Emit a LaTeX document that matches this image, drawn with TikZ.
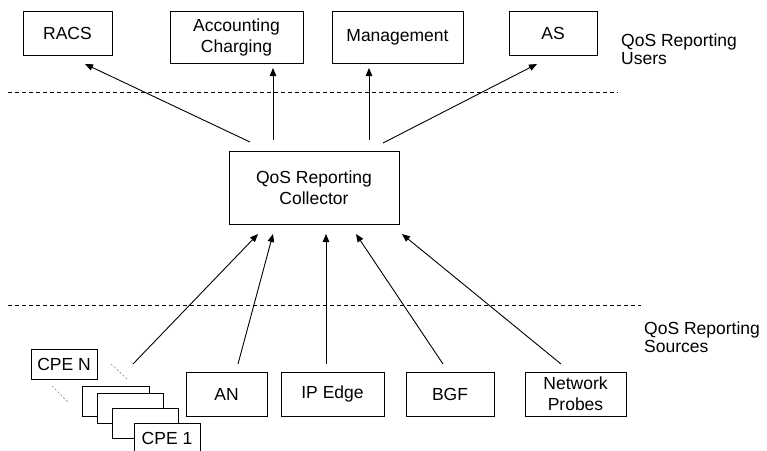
\documentclass[tikz,border=0pt]{standalone}
\usepackage{fontspec}
\setmainfont{Liberation Sans}
\usetikzlibrary{arrows.meta}
\begin{document}
\begin{tikzpicture}[x=1pt,y=-1pt,
  box/.style={draw=black,line width=0.9pt,fill=white,inner sep=0pt,outer sep=0pt,align=center,
    font=\fontsize{17.5}{21}\selectfont},
  lbl/.style={inner sep=0pt,align=left,anchor=north west,font=\fontsize{17.5}{18}\selectfont},
  arr/.style={line width=0.9pt,-{Triangle[length=8pt,width=6.5pt]}},
  sep/.style={line width=0.8pt,dash pattern=on 4pt off 3pt},
  dots/.style={line width=0.6pt,gray,dash pattern=on 2pt off 2pt}]
\clip (0,0) rectangle (767,450);
% top users
\node[box,minimum width=89pt,minimum height=44pt] (racs) at (67.5,33) {RACS};
\node[box,minimum width=133pt,minimum height=52pt] (acct) at (236.5,37) {Accounting\\Charging};
\node[box,minimum width=131pt,minimum height=52pt] (mgmt) at (397.5,37) {Management};
\node[box,minimum width=88pt,minimum height=44pt] (as) at (553,33) {AS};
\node[lbl] (users) at (621,34) {QoS Reporting\\Users};
% separators
\coordinate (s1a) at (8,92); \coordinate (s1b) at (618,92);
\draw[sep] (s1a) -- (s1b);
\coordinate (s2a) at (8,305.5); \coordinate (s2b) at (641,305.5);
\draw[sep] (s2a) -- (s2b);
% collector
\node[box,minimum width=170pt,minimum height=73pt] (coll) at (314,187.5) {QoS Reporting\\Collector};
% sources
\node[box,minimum width=81pt,minimum height=44pt] (an) at (226.5,394) {AN};
\node[box,minimum width=103pt,minimum height=44pt] (ip) at (332.5,394) {IP Edge};
\node[box,minimum width=88pt,minimum height=44pt] (bgf) at (450,394) {BGF};
\node[box,minimum width=101pt,minimum height=44pt] (probes) at (575.5,394) {Network\\Probes};
\node[lbl] (sources) at (644,322) {QoS Reporting\\Sources};
% CPEs
\node[box,minimum width=66pt,minimum height=30pt] (cpen) at (64,364) {CPE N};
\node[box,minimum width=67pt,minimum height=30pt] (cpea) at (115.5,401) {};
\node[box,minimum width=66pt,minimum height=30pt] (cpeb) at (130,408) {};
\node[box,minimum width=66pt,minimum height=30pt] (cpec) at (145,423) {};
\node[box,minimum width=66pt,minimum height=30pt] (cpe1) at (167,438) {CPE 1};
\coordinate (d1a) at (111,364); \coordinate (d1b) at (127,379);
\coordinate (d2a) at (52,386); \coordinate (d2b) at (68,402);
\draw[dots] (d1a) -- (d1b);
\draw[dots] (d2a) -- (d2b);
\coordinate (cpe) at (133,364);
% arrows to users
\draw[arr] ([shift={(-64,-9)}]coll.north) -- ([shift={(17.5,9)}]racs.south);
\draw[arr] ([shift={(-41,-11)}]coll.north) -- ([shift={(36.5,5)}]acct.south);
\draw[arr] ([shift={(55,-11)}]coll.north) -- ([shift={(-28.5,5)}]mgmt.south);
\draw[arr] ([shift={(69,-8)}]coll.north) -- ([shift={(-16,9)}]as.south);
% arrows from sources
\draw[arr] (cpe) -- ([shift={(-56,10)}]coll.south);
\draw[arr] ([shift={(11.5,-8)}]an.north) -- ([shift={(-41,10)}]coll.south);
\draw[arr] ([shift={(-6.5,-8)}]ip.north) -- ([shift={(12,10)}]coll.south);
\draw[arr] ([shift={(-7,-8)}]bgf.north) -- ([shift={(42,10)}]coll.south);
\draw[arr] ([shift={(-14.5,-8)}]probes.north) -- ([shift={(88,10)}]coll.south);
\end{tikzpicture}
\end{document}
